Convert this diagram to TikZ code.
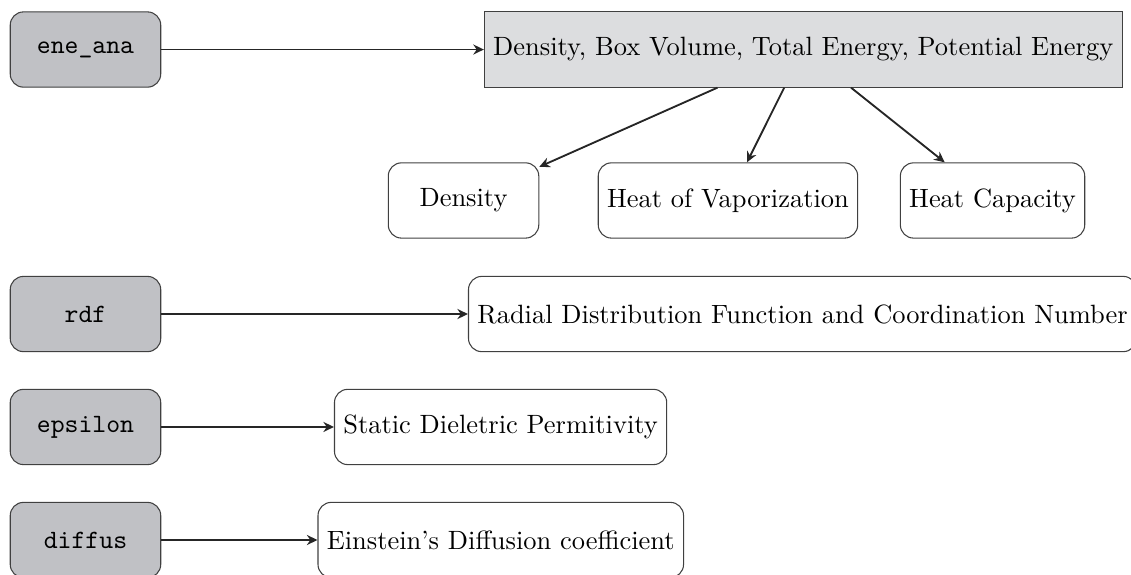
\documentclass[tikz,border=0pt]{standalone}
\usepackage{tikz}
\usetikzlibrary{arrows.meta}

\begin{document}
\begin{tikzpicture}[
  prog/.style={draw=black!75, rounded corners=5pt, fill={rgb,255:red,192;green,193;blue,197}, minimum width=2cm, minimum height=1cm, font=\ttfamily},
  result/.style={draw=black!75, rounded corners=5pt, minimum width=2cm, minimum height=1cm},
  link/.style={-{Stealth[length=4pt, width=3.8pt, inset=1.3pt]}, line width=0.7pt, draw=black!85}
]
\useasboundingbox (0,0) rectangle (15.03,-7.628);
% energy analysis
\node[prog] (ene) at (1.136,-0.658) {ene\_ana};
\node[draw=black!75, fill={rgb,255:red,220;green,221;blue,223}, minimum height=1cm, anchor=west] (energy) at (6.43,-0.658) {Density, Box Volume, Total Energy, Potential Energy};
\node[result] (dens) at (6.16,-2.664) {Density};
\node[result] (hvap) at (9.674,-2.664) {Heat of Vaporization};
\node[result] (hcap) at (13.19,-2.664) {Heat Capacity};
\draw[link] (ene) -- (energy);
\draw[link] (energy) -- (dens);
\draw[link] (energy) -- (hvap);
\draw[link] (energy) -- (hcap);
% rdf
\node[prog] (rdf) at (1.136,-4.173) {rdf};
\node[result, anchor=west] (rdfres) at (6.219,-4.173) {Radial Distribution Function and Coordination Number};
\draw[link] (rdf) -- (rdfres);
% epsilon
\node[prog] (eps) at (1.136,-5.674) {epsilon};
\node[result, anchor=west] (epsres) at (4.438,-5.674) {Static Dieletric Permitivity};
\draw[link] (eps) -- (epsres);
% diffusion
\node[prog] (dif) at (1.136,-7.176) {diffus};
\node[result, anchor=west] (difres) at (4.219,-7.176) {Einstein's Diffusion coefficient};
\draw[link] (dif) -- (difres);
\end{tikzpicture}
\end{document}
